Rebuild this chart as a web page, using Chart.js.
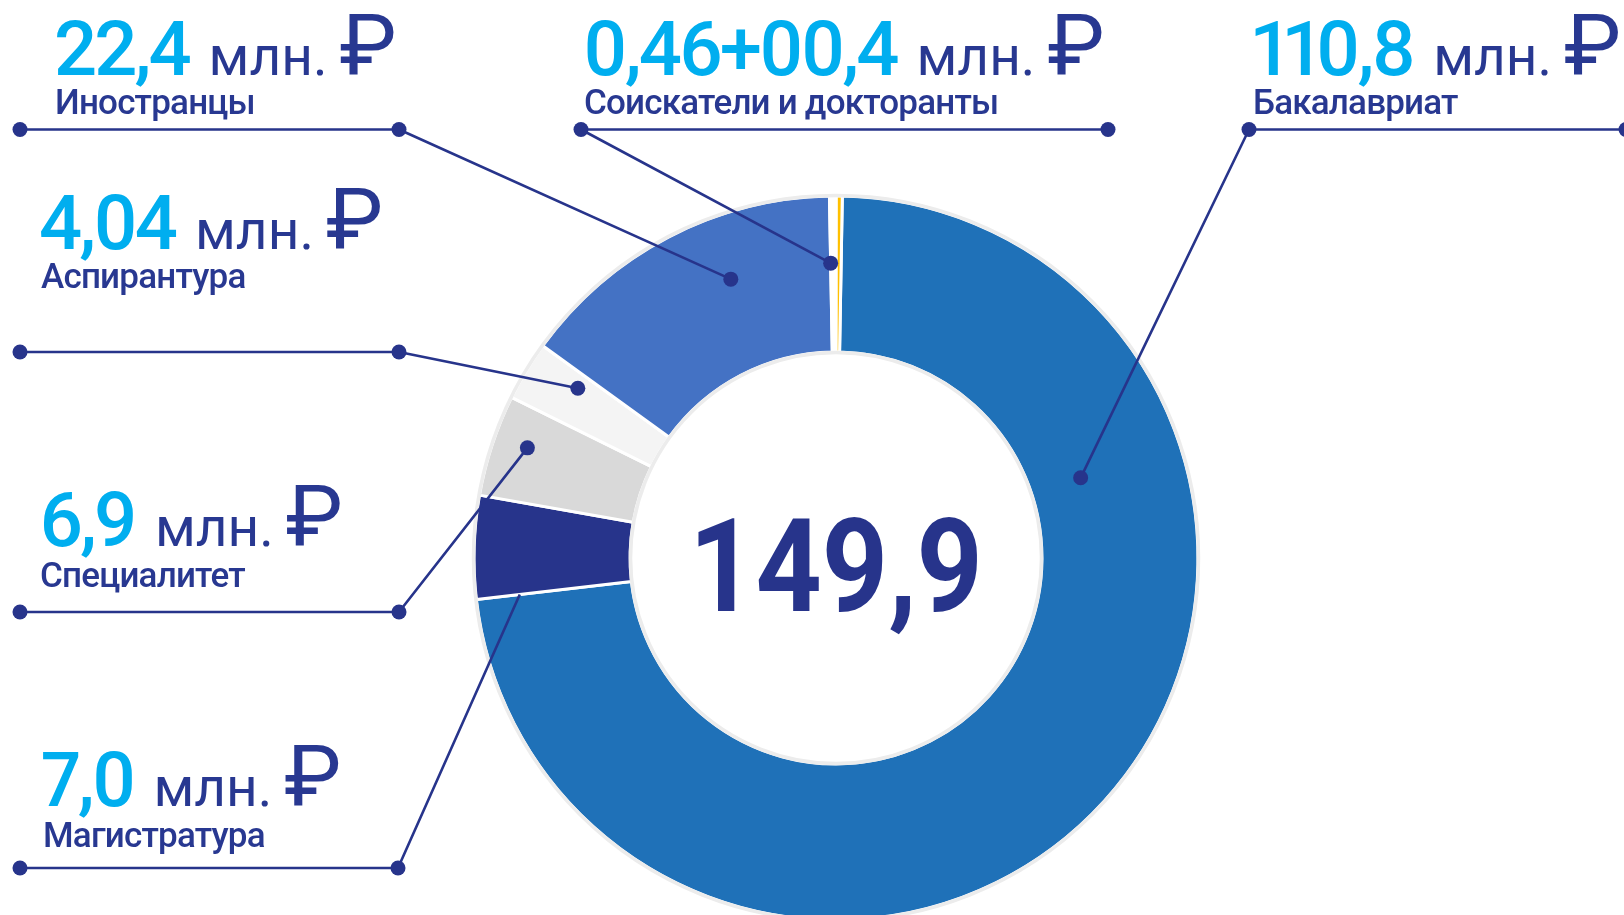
<!DOCTYPE html>
<html lang="ru">
<head>
<meta charset="utf-8">
<title>Структура доходов</title>
<script src="https://cdn.jsdelivr.net/npm/chart.js@4.4.0/dist/chart.umd.min.js"></script>
<style>
  html, body { margin: 0; padding: 0; background: #fff; overflow: hidden; }
  #wrap { position: relative; width: 1624px; height: 915px; overflow: hidden; }
  #pie { position: absolute; left: 0; top: 0; }
  .val, .lbl, #total { position: absolute; white-space: nowrap; font-family: Roboto, sans-serif; line-height: 1; }
  .num { color: #00aeef; font-size: 76px; font-weight: 500; letter-spacing: -3px;
         font-variant-numeric: proportional-nums; font-feature-settings: "pnum" 1; }
  .unit { color: #283891; font-size: 55px; font-weight: 400; margin-left: 20px; }
  .rub { color: #283891; font-size: 86px; font-weight: 400; margin-left: 12px; }
  .lbl { color: #283891; font-size: 35px; font-weight: 500; letter-spacing: -0.8px; }
  #total { color: #27348b; font-size: 130px; font-weight: 700; transform: scaleX(0.89); transform-origin: 0 0; }
  .bl { display: inline-block; width: 0; height: 0; vertical-align: baseline; }
</style>
</head>
<body>
<div id="wrap">
  <canvas id="pie" width="1624" height="940"></canvas>
</div>
<script>
// данные (млн. руб.)
const categories = ['Бакалавриат', 'Магистратура', 'Специалитет', 'Аспирантура', 'Иностранцы', 'Соискатели', 'Докторанты'];
const values = [110.8, 7.0, 6.9, 4.04, 22.4, 0.46, 0.4];
const sliceColors = ['#1f71b8', '#27348b', '#d9d9d9', '#f4f4f4', '#4472c4', '#ffffff', '#ffc000'];

// подписи
const valueLabels = ['22,4', '0,46+00,4', '110,8', '4,04', '6,9', '7,0'];
const captionLabels = ['Иностранцы', 'Соискатели и докторанты', 'Бакалавриат', 'Аспирантура', 'Специалитет', 'Магистратура'];
const unitLabel = 'млн.';
const rubLabel = '₽';
const totalLabel = '149,9';

// выноски: где стоит подпись и к какому сектору идёт линия
const callouts = [
  { slice: 4, valX: 54,   valBase: 75,  lblX: 55,   lblBase: 114, lineY: 129.5, x1: 20,  x2: 399,  from: 'right', t: 0.63, f: 0.59, dot: true },
  { slice: 5, valX: 583,  valBase: 75,  lblX: 584,  lblBase: 114, lineY: 129.5, x1: 581, x2: 1108, from: 'left',  t: 0.0,  f: 0.57, dot: true },
  { slice: 0, valX: 1252, valBase: 75,  lblX: 1253, lblBase: 114, lineY: 129.5, x1: 1249, x2: 1626, from: 'left', t: 0.27, f: 0.33, dot: true },
  { slice: 3, valX: 39,   valBase: 249, lblX: 41,   lblBase: 288, lineY: 352,   x1: 20,  x2: 399,  from: 'right', t: 0.73, f: 0.66, dot: true },
  { slice: 2, valX: 39,   valBase: 546, lblX: 40,   lblBase: 587, lineY: 612,   x1: 20,  x2: 399,  from: 'right', t: 0.59, f: 0.78, dot: true },
  { slice: 1, valX: 41,   valBase: 806, lblX: 43,   lblBase: 847, lineY: 868,   x1: 20,  x2: 398,  from: 'right', t: 0.0,  f: 0.72, dot: false }
];

const navy = '#27348b';
const wrap = document.getElementById('wrap');

// ставит блок так, чтобы базовая линия текста была на y
function placeAtBaseline(el, x, y) {
  const mark = document.createElement('span');
  mark.className = 'bl';
  el.appendChild(mark);
  wrap.appendChild(el);
  el.style.left = x + 'px';
  el.style.top = '0px';
  el.style.top = (y - mark.offsetTop) + 'px';
}

callouts.forEach((c, i) => {
  const v = document.createElement('div');
  v.className = 'val';
  v.innerHTML = '<span class="num">' + valueLabels[i] + '</span><span class="unit">' + unitLabel +
    '</span><span class="rub">' + rubLabel + '</span>';
  placeAtBaseline(v, c.valX, c.valBase);

  const l = document.createElement('div');
  l.className = 'lbl';
  l.textContent = captionLabels[i];
  placeAtBaseline(l, c.lblX, c.lblBase);
});

const calloutPlugin = {
  id: 'callouts',
  afterDatasetsDraw(chart) {
    const ctx = chart.ctx;
    const arcs = chart.getDatasetMeta(0).data;
    const a0 = arcs[0];

    // светло-серый ободок
    ctx.save();
    ctx.strokeStyle = '#ececec';
    ctx.lineWidth = 3.5;
    ctx.beginPath();
    ctx.arc(a0.x, a0.y, a0.outerRadius + 0.5, 0, Math.PI * 2);
    ctx.stroke();
    ctx.beginPath();
    ctx.arc(a0.x, a0.y, a0.innerRadius - 0.5, 0, Math.PI * 2);
    ctx.stroke();

    ctx.strokeStyle = navy;
    ctx.fillStyle = navy;
    ctx.lineWidth = 2.6;
    callouts.forEach(c => {
      const arc = arcs[c.slice];
      const ang = arc.startAngle + c.t * (arc.endAngle - arc.startAngle);
      const r = arc.innerRadius + c.f * (arc.outerRadius - arc.innerRadius);
      const px = arc.x + r * Math.cos(ang);
      const py = arc.y + r * Math.sin(ang);
      const sx = c.from === 'right' ? c.x2 : c.x1;

      ctx.beginPath();
      ctx.moveTo(c.x1, c.lineY);
      ctx.lineTo(c.x2, c.lineY);
      ctx.moveTo(sx, c.lineY);
      ctx.lineTo(px, py);
      ctx.stroke();

      const dots = [[c.x1, c.lineY], [c.x2, c.lineY]];
      if (c.dot) dots.push([px, py]);
      dots.forEach(d => {
        ctx.beginPath();
        ctx.arc(d[0], d[1], 7.5, 0, Math.PI * 2);
        ctx.fill();
      });
    });
    ctx.restore();

    // итог в центре
    const t = document.getElementById('total');
    if (t && !t.dataset.done) {
      t.dataset.done = '1';
      const w = t.getBoundingClientRect().width;
      placeAtBaseline(t, a0.x - w / 2, 611);
    }
  }
};

const total = document.createElement('div');
total.id = 'total';
total.textContent = totalLabel;
wrap.appendChild(total);

new Chart(document.getElementById('pie').getContext('2d'), {
  type: 'doughnut',
  data: {
    labels: categories,
    datasets: [{
      data: values,
      backgroundColor: sliceColors,
      borderColor: '#ffffff',
      borderWidth: 3,
      hoverOffset: 0
    }]
  },
  options: {
    responsive: false,
    animation: false,
    events: [],
    rotation: 1,
    radius: 362,
    cutout: '56.9%',
    layout: {
      padding: { left: 474, right: 426, top: 196, bottom: 20 }
    },
    plugins: {
      legend: { display: false },
      tooltip: { enabled: false }
    }
  },
  plugins: [calloutPlugin]
});
</script>
</body>
</html>
